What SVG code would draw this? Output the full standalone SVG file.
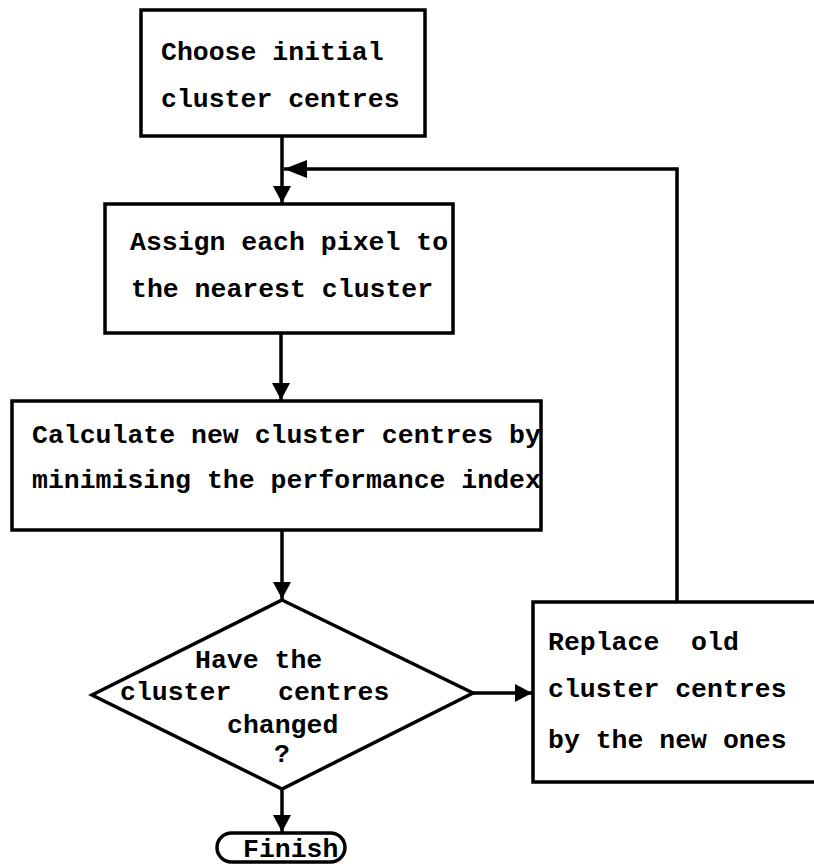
<svg xmlns="http://www.w3.org/2000/svg" width="814" height="866" viewBox="0 0 814 866">
  <style>
    .box { fill: #ffffff; stroke: #000000; stroke-width: 3.5; }
    .wire { fill: none; stroke: #000000; stroke-width: 3.5; }
    .lbl { font-family: "Liberation Mono", "DejaVu Sans Mono", monospace; font-size: 26.5px; font-weight: bold; fill: #000000; white-space: pre; }
  </style>
  <defs>
    <marker id="head" markerUnits="userSpaceOnUse" markerWidth="20" markerHeight="20" refX="17" refY="9" orient="auto">
      <path d="M0,0 L17,9 L0,18 Z" fill="#000000"/>
    </marker>
    <marker id="headLong" markerUnits="userSpaceOnUse" markerWidth="26" markerHeight="20" refX="23" refY="9" orient="auto">
      <path d="M0,0 L23,9 L0,18 Z" fill="#000000"/>
    </marker>
  </defs>
  <rect width="814" height="866" fill="#ffffff"/>

  <!-- connectors -->
  <g id="connectors">
    <line class="wire" x1="282" y1="136" x2="282" y2="203" marker-end="url(#head)"/>
    <polyline class="wire" points="677,602 677,169 284,169" marker-end="url(#headLong)"/>
    <line class="wire" x1="281" y1="333" x2="281" y2="400" marker-end="url(#head)"/>
    <line class="wire" x1="282" y1="530" x2="282" y2="599" marker-end="url(#head)"/>
    <line class="wire" x1="473" y1="693" x2="532" y2="693" marker-end="url(#head)"/>
    <line class="wire" x1="282" y1="789" x2="282" y2="832" marker-end="url(#head)"/>
  </g>

  <!-- start -->
  <g id="choose">
    <rect class="box" x="141" y="10" width="284" height="126"/>
    <text class="lbl" x="161" y="60">Choose initial</text>
    <text class="lbl" x="161" y="107">cluster centres</text>
  </g>

  <!-- assignment step -->
  <g id="assign">
    <rect class="box" x="105" y="204" width="348" height="129"/>
    <text class="lbl" x="130" y="250">Assign each pixel to</text>
    <text class="lbl" x="131" y="297">the nearest cluster</text>
  </g>

  <!-- centre update -->
  <g id="calculate">
    <rect class="box" x="12" y="401" width="529" height="129"/>
    <text class="lbl" x="32" y="443">Calculate new cluster centres by</text>
    <text class="lbl" x="32" y="488">minimising the performance index</text>
  </g>

  <!-- decision -->
  <g id="decision">
    <polygon class="box" points="282,600 473,693 282,789 92,695"/>
    <text class="lbl" x="195" y="668">Have the</text>
    <text class="lbl" y="700"><tspan x="120">cluster</tspan><tspan x="278">centres</tspan></text>
    <text class="lbl" x="227" y="733">changed</text>
    <text class="lbl" x="282" y="762" text-anchor="middle">?</text>
  </g>

  <!-- replacement step -->
  <g id="replace">
    <rect class="box" x="533" y="602" width="290" height="180"/>
    <text class="lbl" x="548" y="650">Replace  old</text>
    <text class="lbl" x="548" y="697">cluster centres</text>
    <text class="lbl" x="548" y="748">by the new ones</text>
  </g>

  <!-- end -->
  <g id="finish">
    <rect class="box" x="217" y="833" width="128" height="29" rx="14.5" ry="14.5"/>
    <text class="lbl" x="243" y="857">Finish</text>
  </g>
</svg>
